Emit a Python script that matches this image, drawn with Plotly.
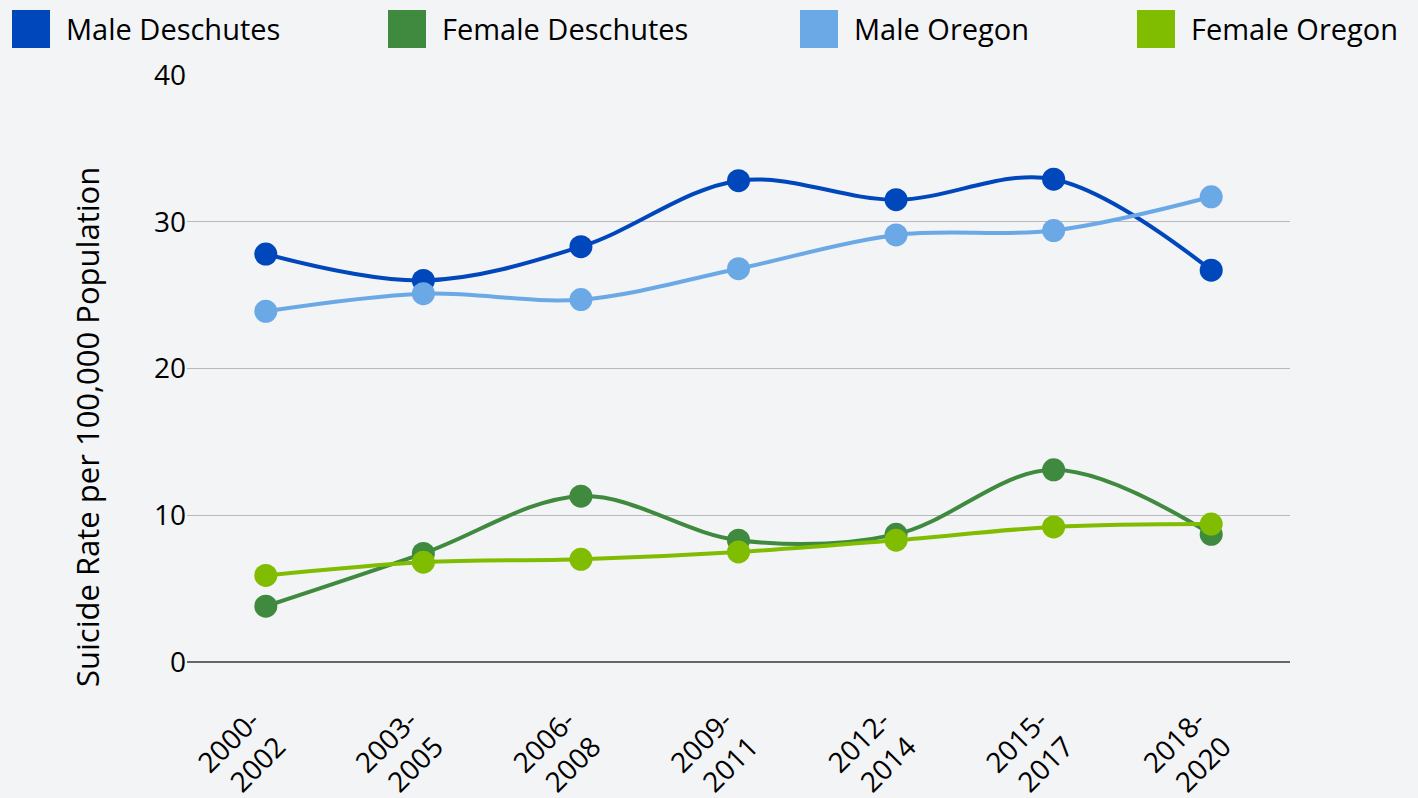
import plotly.graph_objects as go

periods = ["2000-<br>2002", "2003-<br>2005", "2006-<br>2008", "2009-<br>2011",
           "2012-<br>2014", "2015-<br>2017", "2018-<br>2020"]
male_deschutes = [27.8, 26.0, 28.3, 32.8, 31.5, 32.9, 26.7]
female_deschutes = [3.8, 7.4, 11.3, 8.3, 8.7, 13.1, 8.7]
male_oregon = [23.9, 25.1, 24.7, 26.8, 29.1, 29.4, 31.7]
female_oregon = [5.9, 6.8, 7.0, 7.5, 8.3, 9.2, 9.4]

series_names = ["Male Deschutes", "Female Deschutes", "Male Oregon", "Female Oregon"]
series_values = [male_deschutes, female_deschutes, male_oregon, female_oregon]
colors = ["#0047bb", "#3f8a3f", "#6aa9e6", "#80bc00"]
y_title = "Suicide Rate per 100,000 Population"

FONT = "Open Sans"
fig = go.Figure()
for name, vals, col in zip(series_names, series_values, colors):
    fig.add_trace(go.Scatter(
        x=periods, y=vals, name=name, mode="lines+markers",
        line=dict(color=col, width=4, shape="spline", smoothing=1),
        marker=dict(color=col, size=23),
        showlegend=False, cliponaxis=False,
    ))

# Legend drawn as squares + text
legend_x = [12, 388, 800, 1137]
W = 1418
H = 798
for name, col, lx in zip(series_names, colors, legend_x):
    fig.add_shape(type="rect", xref="paper", yref="paper",
                  x0=(lx - 187) / 1103, x1=(lx + 38 - 187) / 1103,
                  y0=(662 - 48) / 587, y1=(662 - 10) / 587,
                  fillcolor=col, line=dict(width=0))
    fig.add_annotation(xref="paper", yref="paper",
                       x=(lx + 52 - 187) / 1103, y=(662 - 29) / 587,
                       text=name, showarrow=False, xanchor="left", yanchor="middle",
                       font=dict(family=FONT, size=29, color="#000000"))

# Y-axis title as annotation (placed lower, like the reference)
fig.add_annotation(xref="paper", yref="paper",
                   x=(87 - 187) / 1103, y=(662 - 427) / 587,
                   text=y_title, showarrow=False, textangle=-90,
                   xanchor="center", yanchor="middle",
                   font=dict(family=FONT, size=31, color="#000000"))

fig.update_layout(
    width=W, height=H,
    paper_bgcolor="#f3f4f6", plot_bgcolor="#f3f4f6",
    margin=dict(l=187, r=128, t=75, b=136, autoexpand=False),
    font=dict(family=FONT, color="#000000", size=28),
    xaxis=dict(type="category", range=[-0.5, 6.5], showgrid=False, zeroline=False,
               showline=False, ticks="", ticklabelstandoff=36, ticklabelshift=-14,
               tickangle=-45, automargin=False,
               tickfont=dict(family=FONT, size=28, color="#000000")),
    yaxis=dict(range=[0, 40], dtick=10, showgrid=True, gridcolor="#b9b9b9", gridwidth=1,
               zeroline=True, zerolinecolor="#666666", zerolinewidth=2,
               showline=False, ticks="", ticklen=0, automargin=False,
               tickfont=dict(family=FONT, size=28, color="#000000")),
)

fig.write_html("out.html", config={"displayModeBar": False},
               post_script="document.body.style.margin='0';document.body.style.background='#f3f4f6';")
